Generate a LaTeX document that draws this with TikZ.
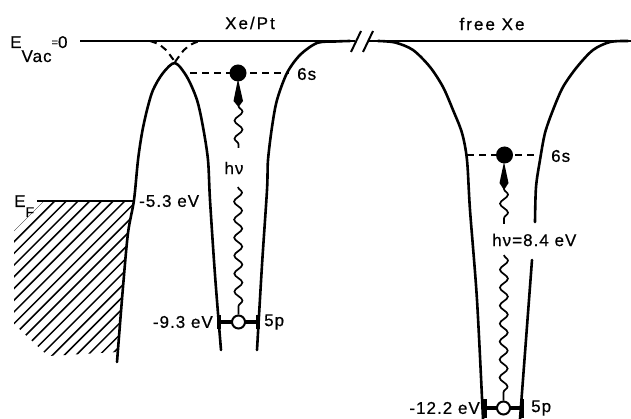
\documentclass[tikz,border=0pt]{standalone}
\usepackage{fontspec}
\setmainfont{Liberation Sans}
\newfontfamily\lab[LetterSpace=6,FakeBold=0.6]{Liberation Sans}
\newfontfamily\tit[LetterSpace=12,FakeBold=0.6]{Liberation Sans}
\usetikzlibrary{decorations.pathmorphing}
\begin{document}
\begin{tikzpicture}[x=1pt,y=-1pt,
  wall/.style={line width=2.6pt, line cap=round},
  vac/.style={line width=2pt},
  lvl/.style={dash pattern=on 7pt off 5pt, line width=2pt},
  hatchline/.style={line width=1.5pt},
  wave/.style={line width=1.7pt, decorate, decoration={snake, segment length=18pt, amplitude=4pt}},
  elec/.style={circle, fill=black, inner sep=0pt, minimum size=17pt},
  hole/.style={circle, draw=black, fill=white, line width=2pt, inner sep=0pt, minimum size=13pt},
  txt/.style={font=\fontsize{17}{20}\selectfont\lab, inner sep=0pt},
  ttl/.style={font=\fontsize{17}{20}\selectfont\tit, inner sep=0pt},
  plevel/.style={line width=3.2pt},
]
\useasboundingbox (0,0) rectangle (631,419);

% hatched metal
\begin{scope}
\clip (44,201) -- (134,201) -- (128,233) -- (123,287) -- (118,352) -- (48,356) -- (14,324) -- (14,231) -- cycle;
\foreach \a in {0,...,24} \draw[hatchline] ({-171.1+\a*11.7},380) -- ({8.9+\a*11.7},200);
\end{scope}

% vacuum level with break
\draw[vac] (80,41) -- (355,41);
\draw[vac] (369,41) -- (631,41);
\draw[vac] (351,52) -- (361,31);
\draw[vac] (363,52) -- (373,31);

% Fermi level
\draw[vac] (37,201) -- (134,201);

% Xe/Pt potential
\draw[wall] plot[smooth] coordinates {(117,362) (123,287) (128,233) (134,200) (138,160) (142,133) (147,110) (153,90) (163,73) (175,63) (187,77) (197,100) (203,127) (208,160) (210,200) (215,275) (221,350)};
\draw[wall] plot[smooth] coordinates {(350,41) (335,41.5) (317,43) (300,55) (287,73) (277,100) (272,127) (268,160) (267,190) (262,265) (257,350)};
\draw[lvl] plot[smooth] coordinates {(150,41) (158,44) (166,50) (175,62)};
\draw[lvl] plot[smooth] coordinates {(175,62) (184,50) (192,44) (200,41)};

% free Xe potential
\draw[wall] plot[smooth] coordinates {(378,41) (395,42.5) (413,50) (430,67) (443,87) (453,110) (462,133) (467,160) (470,210) (477,300) (483,419)};
\draw[wall] plot[smooth] coordinates {(628,41) (610,42) (593,50) (577,67) (563,87) (553,110) (545,133) (540,160) (536,187) (535,222)};
\draw[wall] (532,260) -- (520,419);

% levels Xe/Pt
\draw[lvl] (190,73) -- (289,73);
\draw[plevel] (219,322) -- (258,322);
\draw[plevel] (219,315) -- (219,329);
\draw[plevel] (258,315) -- (258,329);
\node[elec] (eA) at (238,73) {};
\node[hole] (hA) at (238.5,322) {};
\fill (238,79) -- (243,101) -- (238.5,107) -- (233.5,101) -- cycle;
\coordinate (aA) at (238.5,106);
\coordinate (wA) at (238.5,148);
\draw[wave] (aA) -- (wA);
\coordinate (bA) at (238,187);
\draw[wave] (bA) -- (hA.north);

% levels free Xe
\draw[lvl] (467,155) -- (539,155);
\draw[plevel] (485,408) -- (522,408);
\draw[plevel] (485,399) -- (485,418);
\draw[plevel] (522,399) -- (522,418);
\node[elec] (eB) at (504.5,155) {};
\node[hole] (hB) at (503.5,408) {};
\fill (504,162) -- (508.5,183) -- (504,190) -- (499.5,183) -- cycle;
\coordinate (aB) at (504,189);
\coordinate (wB) at (504,224);
\draw[wave] (aB) -- (wB);
\coordinate (bB) at (504,255);
\draw[wave] (bB) -- (hB.north);

% texts
\node[ttl] (tPt) at (250,23) {Xe/Pt};
\node[ttl] (tFree) at (492,24) {free Xe};
\node[txt, anchor=base west] (lVac) at (10,48) {E\raisebox{-14pt}{Vac}\raisebox{2pt}{\fontsize{11}{12}\selectfont =}0};
\node[txt, anchor=base west] (lEF) at (14,207) {E\raisebox{-10pt}{\fontsize{14}{16}\selectfont F}};
\node[txt, anchor=west] (l53) at (139,201) {-5.3 eV};
\node[txt, anchor=west] (l6sA) at (297,74) {6s};
\node[txt] (lhvA) at (234,168) {hν};
\node[txt, anchor=east] (l93) at (213,322) {-9.3 eV};
\node[txt, anchor=west] (l5pA) at (264,322) {5p};
\node[txt, anchor=west] (l6sB) at (551,156) {6s};
\node[txt, anchor=west] (lhvB) at (492,240) {hν=8.4 eV};
\node[txt, anchor=east] (l122) at (480,408) {-12.2 eV};
\node[txt, anchor=west] (l5pB) at (531,408) {5p};
\end{tikzpicture}
\end{document}
